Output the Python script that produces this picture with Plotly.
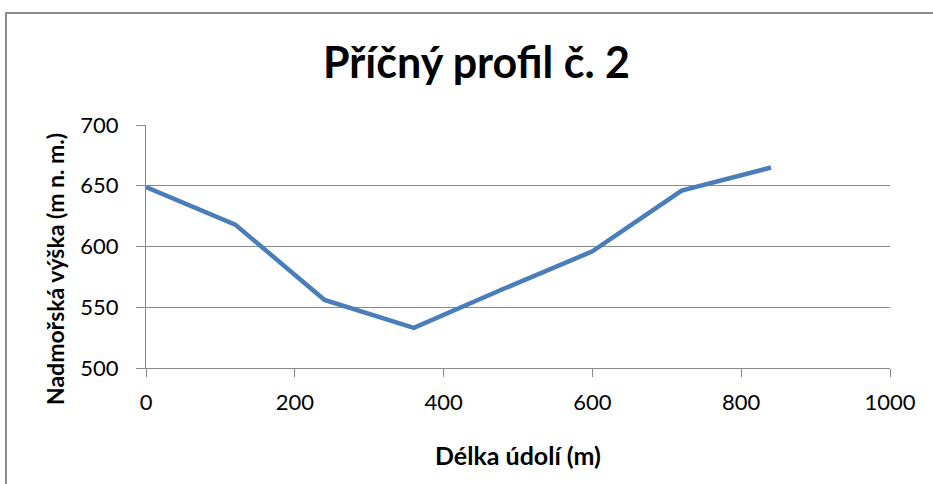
import plotly.graph_objects as go

# Data
distance_m = [0, 120, 240, 360, 480, 600, 720, 840]
elevation_m = [649, 618, 556, 533, 565, 596, 646, 665]

x_ticks = [0, 200, 400, 600, 800, 1000]
y_ticks = [500, 550, 600, 650, 700]

title_text = "Příčný profil č. 2"
x_title = "Délka údolí (m)"
y_title = "Nadmořská výška (m n. m.)"

FONT = "Lato"
GRID = "#8A8A8A"

fig = go.Figure()
fig.add_trace(go.Scatter(
    x=distance_m, y=elevation_m, mode="lines",
    line=dict(color="#4A7EBB", width=4.5),
    showlegend=False, hoverinfo="x+y",
))

W, H = 933, 484
L, R, T, B = 146, 890, 125, 368

fig.update_layout(
    width=W, height=H,
    margin=dict(l=L, r=W - R, t=T, b=H - B, pad=0, autoexpand=False),
    paper_bgcolor="white", plot_bgcolor="white",
    font=dict(family=FONT, color="black"),
    title=dict(text="<b>" + title_text + "</b>", x=476.5 / W, xref="container", xanchor="center",
               y=1 - 63 / H, yref="container", yanchor="middle",
               font=dict(size=43, family=FONT, color="black")),
    xaxis=dict(range=[0, 1000], tickvals=x_ticks, ticktext=[str(v) for v in x_ticks],
               showgrid=False, zeroline=False, showline=True, linecolor=GRID, linewidth=1.3,
               ticks="outside", ticklen=8, tickcolor=GRID, tickwidth=1.3,
               ticklabelstandoff=6,
               tickfont=dict(size=22, family=FONT, color="black"),
               title=dict(text="<b>" + x_title + "</b>", standoff=33,
                          font=dict(size=25, family=FONT, color="black"))),
    yaxis=dict(range=[500, 700], tickvals=y_ticks, ticktext=[str(v) for v in y_ticks],
               showgrid=True, gridcolor=GRID, gridwidth=1.3, zeroline=False,
               showline=True, linecolor=GRID, linewidth=1.3,
               ticks="outside", ticklen=9, tickcolor=GRID, tickwidth=1.3,
               ticklabelstandoff=13,
               tickfont=dict(size=22, family=FONT, color="black")),
    annotations=[dict(text="<b>" + y_title + "</b>", textangle=-90,
                      xref="paper", yref="paper",
                      x=(55 - L) / (R - L), y=(B - 269) / (B - T),
                      xanchor="center", yanchor="middle", showarrow=False,
                      font=dict(size=23, family=FONT, color="black"))],
    shapes=[dict(type="rect", xref="paper", yref="paper",
                 x0=(6 - L) / (R - L), x1=(960 - L) / (R - L),
                 y0=(B - 510) / (B - T), y1=(B - 13) / (B - T),
                 line=dict(color="#8C8C8C", width=2), fillcolor="rgba(0,0,0,0)", layer="below")],
)

fig.write_html("out.html", config={"displayModeBar": False},
               post_script="document.body.style.margin='0px';document.body.style.overflow='hidden';")
